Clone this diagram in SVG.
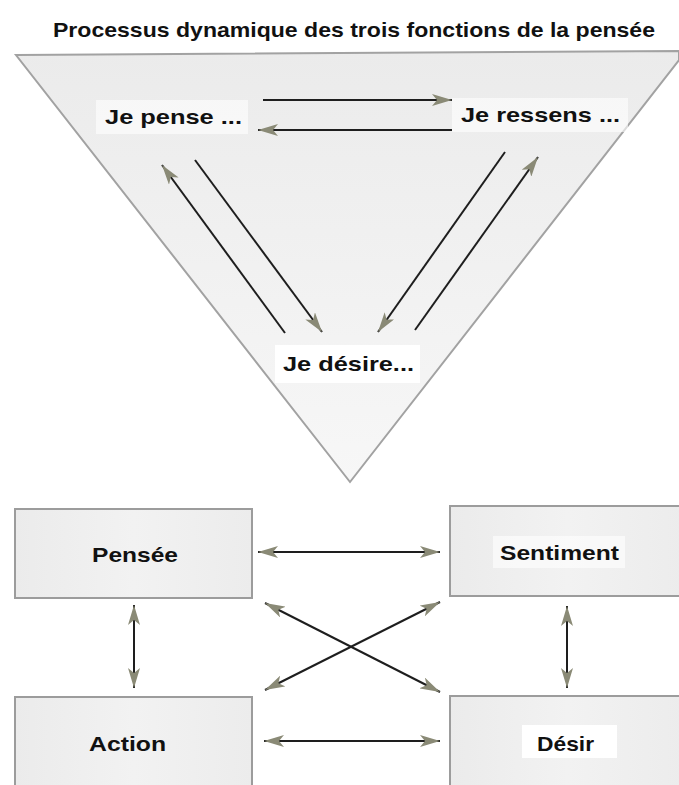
<svg xmlns="http://www.w3.org/2000/svg" width="679" height="785" viewBox="0 0 679 785">
<style>
.t{font-family:"Liberation Sans",Arial,sans-serif;font-weight:bold;fill:#111;}
.box{fill:url(#bg);stroke:#9c9c9c;stroke-width:2;}
.ln{stroke:#1e1e1e;stroke-width:2;fill:none;}
.lbg{fill:#ffffff;opacity:0.6;}
</style>
<defs>
<linearGradient id="bg" x1="0" y1="0" x2="1" y2="0">
<stop offset="0" stop-color="#ebebeb"/><stop offset="0.5" stop-color="#f2f2f2"/><stop offset="1" stop-color="#ececec"/>
</linearGradient>
<linearGradient id="tri" x1="0" y1="0" x2="0" y2="1">
<stop offset="0" stop-color="#ebebeb"/><stop offset="1" stop-color="#f7f7f7"/>
</linearGradient>
<marker id="ah" viewBox="0 0 20 12" refX="20" refY="6" markerWidth="20" markerHeight="12" markerUnits="userSpaceOnUse" orient="auto-start-reverse">
<path d="M0,0 L20,6 L0,12 L5,6 Z" fill="#8a8a76"/>
</marker>
</defs>
<rect width="679" height="785" fill="#ffffff"/>
<text class="t" x="53" y="37" font-size="21" textLength="602" lengthAdjust="spacingAndGlyphs">Processus dynamique des trois fonctions de la pensée</text>
<g id="triangle">
<polygon points="16,55 679,51 679,60 350,482" fill="url(#tri)" stroke="#a2a2a2" stroke-width="2"/>
</g>
<g id="je-pense">
<rect class="lbg" x="96" y="100" width="152" height="34"/>
<text class="t" x="105" y="124" font-size="21" textLength="137" lengthAdjust="spacingAndGlyphs">Je pense ...</text>
</g>
<g id="je-ressens">
<rect class="lbg" x="452" y="98" width="176" height="34"/>
<text class="t" x="461" y="122" font-size="21" textLength="159" lengthAdjust="spacingAndGlyphs">Je ressens ...</text>
</g>
<g id="je-desire">
<rect fill="#ffffff" x="275" y="345" width="145" height="38"/>
<text class="t" x="283" y="371" font-size="21" textLength="131" lengthAdjust="spacingAndGlyphs">Je désire...</text>
</g>
<g id="pensee">
<rect class="box" x="15" y="509" width="237" height="89"/>
<text class="t" x="92" y="562" font-size="21" textLength="86" lengthAdjust="spacingAndGlyphs">Pensée</text>
</g>
<g id="sentiment">
<rect class="box" x="450" y="506" width="235" height="90"/>
<rect class="lbg" x="493" y="536" width="132" height="32"/>
<text class="t" x="500" y="560" font-size="21" textLength="119" lengthAdjust="spacingAndGlyphs">Sentiment</text>
</g>
<g id="action">
<rect class="box" x="15" y="697" width="237" height="95"/>
<text class="t" x="89" y="751" font-size="21" textLength="77" lengthAdjust="spacingAndGlyphs">Action</text>
</g>
<g id="desir">
<rect class="box" x="450" y="696" width="235" height="95"/>
<rect fill="#ffffff" x="522" y="725" width="95" height="33"/>
<text class="t" x="537" y="751" font-size="21" textLength="57" lengthAdjust="spacingAndGlyphs">Désir</text>
</g>
<g id="connectors">
<line class="ln" x1="263" y1="100" x2="452" y2="100" marker-end="url(#ah)"/>
<line class="ln" x1="452" y1="130" x2="258" y2="130" marker-end="url(#ah)"/>
<line class="ln" x1="285" y1="333" x2="162" y2="165" marker-end="url(#ah)"/>
<line class="ln" x1="195" y1="160" x2="322" y2="332" marker-end="url(#ah)"/>
<line class="ln" x1="505" y1="152" x2="378" y2="332" marker-end="url(#ah)"/>
<line class="ln" x1="415" y1="330" x2="538" y2="157" marker-end="url(#ah)"/>
<line class="ln" x1="258" y1="552" x2="440" y2="552" marker-start="url(#ah)" marker-end="url(#ah)"/>
<line class="ln" x1="264" y1="741" x2="440" y2="741" marker-start="url(#ah)" marker-end="url(#ah)"/>
<line class="ln" x1="134" y1="605" x2="134" y2="688" marker-start="url(#ah)" marker-end="url(#ah)"/>
<line class="ln" x1="567" y1="606" x2="567" y2="688" marker-start="url(#ah)" marker-end="url(#ah)"/>
<line class="ln" x1="265" y1="603" x2="440" y2="692" marker-start="url(#ah)" marker-end="url(#ah)"/>
<line class="ln" x1="440" y1="602" x2="265" y2="690" marker-start="url(#ah)" marker-end="url(#ah)"/>
</g>
</svg>
